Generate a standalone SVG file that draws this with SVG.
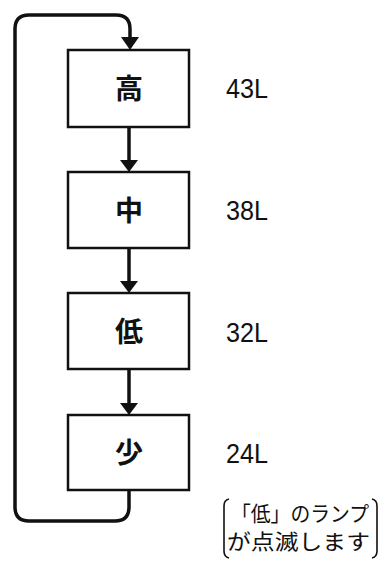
<svg xmlns="http://www.w3.org/2000/svg" width="382" height="561" viewBox="0 0 382 561">
<defs>
<style>
.box{fill:#fff;stroke:#111;stroke-width:2.5}
.line{fill:none;stroke:#111;stroke-width:3.5;stroke-linejoin:round}
.head{fill:#111}
.br{fill:none;stroke:#111;stroke-width:1.6}
.kanji{font-family:"Noto Sans CJK JP","Noto Sans CJK SC",sans-serif;font-size:28px;font-weight:700;fill:#111;text-anchor:middle}
.lbl{font-family:"Liberation Sans",Arial,sans-serif;font-size:28px;fill:#111}
.note{font-family:"Noto Sans CJK JP","Noto Sans CJK SC",sans-serif;font-size:21px;fill:#111}
</style>
</defs>
<rect width="382" height="561" fill="#fff"/>
<g id="connectors">
<path class="line" d="M129,490 V507 Q129,521 115,521 H29 Q15,521 15,507 V29 Q15,15 29,15 H116 Q130,15 130,29 V40"/>
<polygon class="head" points="121,37 139,37 130,50"/>
<path class="line" d="M129,127 V162"/>
<polygon class="head" points="120,160 138,160 129,172"/>
<path class="line" d="M129,248 V283"/>
<polygon class="head" points="120,281 138,281 129,293"/>
<path class="line" d="M129,369 V405"/>
<polygon class="head" points="120,403 138,403 129,415"/>
</g>
<g id="n-high">
<rect class="box" x="68" y="50" width="121" height="77"/>
<text class="kanji" x="129" y="99">高</text>
</g>
<g id="n-mid">
<rect class="box" x="68" y="172" width="121" height="76"/>
<text class="kanji" x="129" y="220.5">中</text>
</g>
<g id="n-low">
<rect class="box" x="68" y="293" width="121" height="76"/>
<text class="kanji" x="129" y="341.5">低</text>
</g>
<g id="n-few">
<rect class="box" x="68" y="415" width="121" height="75"/>
<text class="kanji" x="129" y="463">少</text>
</g>
<g id="labels">
<text class="lbl" x="226" y="98" textLength="42" lengthAdjust="spacingAndGlyphs">43L</text>
<text class="lbl" x="226" y="220" textLength="42" lengthAdjust="spacingAndGlyphs">38L</text>
<text class="lbl" x="226" y="342" textLength="42" lengthAdjust="spacingAndGlyphs">32L</text>
<text class="lbl" x="226" y="463" textLength="42" lengthAdjust="spacingAndGlyphs">24L</text>
</g>
<g id="note">
<path class="br" d="M229,499 Q224,500 224,506 V551 Q224,557 229,558"/>
<path class="br" d="M372,499 Q377,500 377,506 V551 Q377,557 372,558"/>
<text class="note" x="231" y="521" textLength="138" lengthAdjust="spacingAndGlyphs">「低」のランプ</text>
<text class="note" x="227" y="549" textLength="143" lengthAdjust="spacingAndGlyphs">が点滅します</text>
</g>
</svg>
